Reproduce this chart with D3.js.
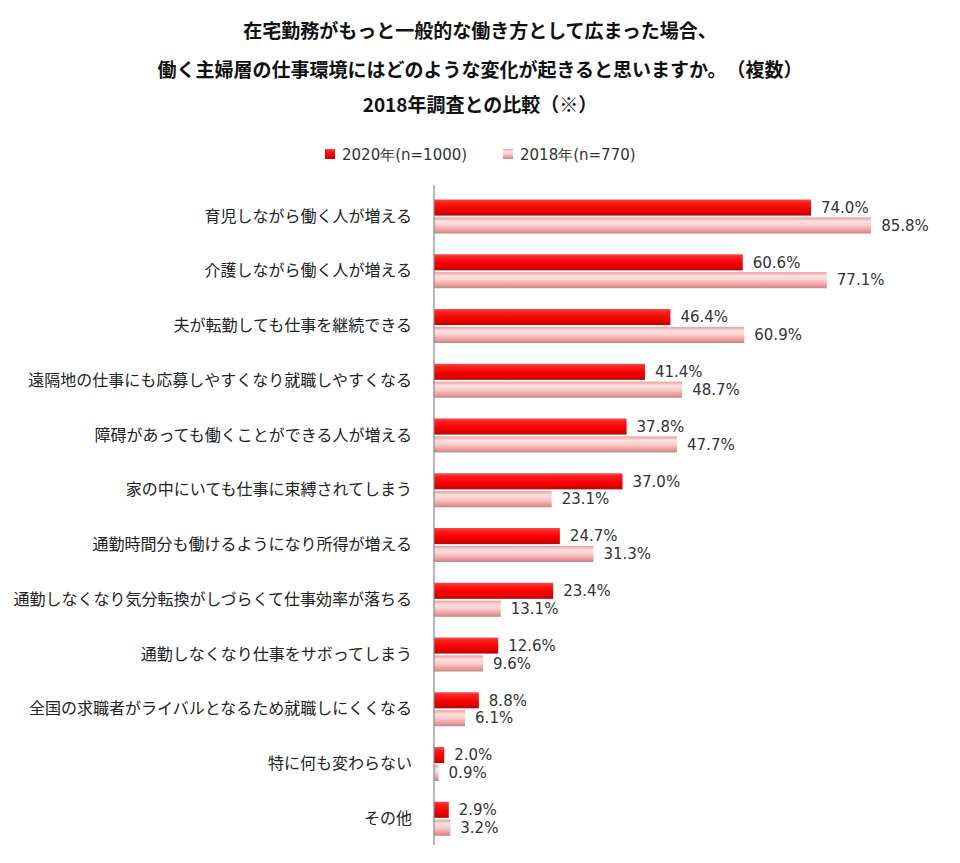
<!DOCTYPE html>
<html>
<head>
<meta charset="utf-8">
<script src="https://cdn.jsdelivr.net/npm/d3@7"></script>
<style>
  body { margin: 0; background: #fff; }
  svg { display: block; }
  text { text-spacing-trim: space-all; }
</style>
</head>
<body>
<svg id="chart" width="960" height="863"></svg>
<script>
// data
const titleLines = [
	'在宅勤務がもっと一般的な働き方として広まった場合、',
	'働く主婦層の仕事環境にはどのような変化が起きると思いますか。（複数）',
	'2018年調査との比較（※）',
];
const seriesNames = [ '2020年(n=1000)', '2018年(n=770)' ];
const categories = [
	'育児しながら働く人が増える',
	'介護しながら働く人が増える',
	'夫が転勤しても仕事を継続できる',
	'遠隔地の仕事にも応募しやすくなり就職しやすくなる',
	'障碍があっても働くことができる人が増える',
	'家の中にいても仕事に束縛されてしまう',
	'通勤時間分も働けるようになり所得が増える',
	'通勤しなくなり気分転換がしづらくて仕事効率が落ちる',
	'通勤しなくなり仕事をサボってしまう',
	'全国の求職者がライバルとなるため就職しにくくなる',
	'特に何も変わらない',
	'その他',
];
const values2020 = [ 74.0, 60.6, 46.4, 41.4, 37.8, 37.0, 24.7, 23.4, 12.6, 8.8, 2.0, 2.9 ];
const values2018 = [ 85.8, 77.1, 60.9, 48.7, 47.7, 23.1, 31.3, 13.1, 9.6, 6.1, 0.9, 3.2 ];

const jp = '"Noto Sans CJK JP", "Noto Sans", sans-serif';
const num = '"DejaVu Sans", Verdana, sans-serif';

const svg = d3.select( '#chart' );

// gradients for the shiny bars
const defs = svg.append( 'defs' );
function gradient( id, stops ) {
	const g = defs.append( 'linearGradient' )
		.attr( 'id', id )
		.attr( 'x1', 0 ).attr( 'y1', 0 )
		.attr( 'x2', 0 ).attr( 'y2', 1 );
	g.selectAll( 'stop' )
		.data( stops )
		.join( 'stop' )
		.attr( 'offset', d => d[ 0 ] )
		.attr( 'stop-color', d => d[ 1 ] );
}
gradient( 'gRed', [ [ '0%', '#ee5050' ], [ '18%', '#ff2020' ], [ '55%', '#fa0000' ], [ '85%', '#dc0000' ], [ '100%', '#a01010' ] ] );
gradient( 'gPink', [ [ '0%', '#ec9a9a' ], [ '25%', '#fde2e2' ], [ '50%', '#f9cccc' ], [ '80%', '#f09c9c' ], [ '100%', '#bf8888' ] ] );

const fills = [ 'url(#gRed)', 'url(#gPink)' ];

// title
svg.append( 'g' )
	.selectAll( 'text' )
	.data( titleLines )
	.join( 'text' )
	.attr( 'x', 480 )
	.attr( 'y', ( d, i ) => [ 31, 70, 105 ][ i ] )
	.attr( 'dy', '0.36em' )
	.attr( 'text-anchor', 'middle' )
	.style( 'font-family', jp )
	.style( 'font-size', '19px' )
	.style( 'font-weight', 'bold' )
	.attr( 'fill', '#111' )
	.text( d => d );

// legend
const legend = svg.append( 'g' );
const legendX = [ 325, 503 ];
seriesNames.forEach( ( name, i ) => {
	legend.append( 'rect' )
		.attr( 'x', legendX[ i ] )
		.attr( 'y', 149 )
		.attr( 'width', 10 )
		.attr( 'height', 10 )
		.attr( 'fill', fills[ i ] );
	legend.append( 'text' )
		.attr( 'x', legendX[ i ] + 17 )
		.attr( 'y', 160 )
		.style( 'font-family', num )
		.style( 'font-size', '15px' )
		.attr( 'fill', '#333' )
		.text( name );
} );

// scales
const x = d3.scaleLinear()
	.domain( [ 0, 100 ] )
	.range( [ 434, 943.5 ] );

const y = d3.scaleBand()
	.domain( categories )
	.range( [ 189, 846 ] );

const sub = d3.scaleBand()
	.domain( [ 0, 1 ] )
	.range( [ 10.5, 44.5 ] )
	.paddingInner( 0.1 );

const rows = categories.map( ( c, i ) => ( {
	cat: c,
	bars: [ values2020[ i ], values2018[ i ] ],
} ) );

const groups = svg.append( 'g' )
	.selectAll( 'g' )
	.data( rows )
	.join( 'g' )
	.attr( 'transform', d => `translate(0, ${ y( d.cat ) })` );

groups.selectAll( 'rect' )
	.data( d => d.bars )
	.join( 'rect' )
	.attr( 'x', x( 0 ) )
	.attr( 'y', ( d, i ) => sub( i ) )
	.attr( 'width', d => x( d ) - x( 0 ) )
	.attr( 'height', sub.bandwidth() )
	.attr( 'fill', ( d, i ) => fills[ i ] );

groups.selectAll( 'text.val' )
	.data( d => d.bars )
	.join( 'text' )
	.attr( 'class', 'val' )
	.attr( 'x', d => x( d ) + 10 )
	.attr( 'y', ( d, i ) => sub( i ) + sub.bandwidth() / 2 )
	.attr( 'dy', '0.35em' )
	.style( 'font-family', num )
	.style( 'font-size', '15px' )
	.attr( 'fill', '#333' )
	.text( d => d.toFixed( 1 ) + '%' );

// category axis
const yAxis = d3.axisLeft( y )
	.tickSize( 0 )
	.tickPadding( 22 );

const axisG = svg.append( 'g' )
	.attr( 'transform', `translate(${ x( 0 ) }, 0)` )
	.call( yAxis );

axisG.select( 'path' )
	.attr( 'stroke', '#888' )
	.attr( 'stroke-width', 1.2 )
	.attr( 'd', 'M0,185V845' );

axisG.selectAll( 'text' )
	.style( 'font-family', jp )
	.style( 'font-size', '16px' )
	.attr( 'fill', '#222' );
</script>
</body>
</html>
